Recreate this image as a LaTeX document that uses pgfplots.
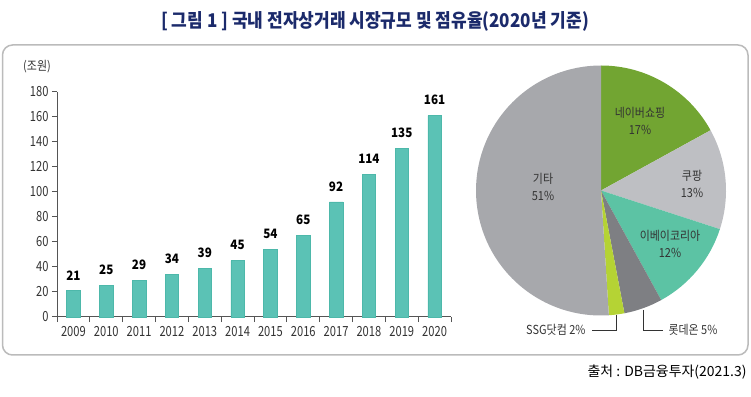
\documentclass[border=0pt]{standalone}
\usepackage{fontspec}
\setmainfont{Noto Sans CJK KR}
\newfontfamily\condA[FakeStretch=0.8]{Noto Sans CJK KR}
\newfontfamily\condB[FakeStretch=0.9]{Noto Sans CJK KR}
\newfontfamily\condC[FakeStretch=0.88]{Noto Sans CJK KR}
\usepackage{graphicx}
\usepackage{pgfplots}
\pgfplotsset{compat=1.18}
\definecolor{barc}{HTML}{5BC2B5}
\definecolor{bare}{HTML}{4DB8AA}
\definecolor{axisc}{HTML}{555555}
\definecolor{boxc}{HTML}{BBBBBB}
\definecolor{titlec}{HTML}{1B2A6B}
\definecolor{txtc}{HTML}{333333}
\definecolor{cNaver}{HTML}{72A532}
\definecolor{cCoupang}{HTML}{BEBFC3}
\definecolor{cEbay}{HTML}{5CC3A4}
\definecolor{cLotte}{HTML}{7E7F83}
\definecolor{cSSG}{HTML}{B5D334}
\definecolor{cOther}{HTML}{A7A8AC}
\begin{document}
\begin{tikzpicture}
\path[use as bounding box] (0bp,0bp) rectangle (751bp,397bp);
% frame
\draw[draw=boxc, line width=1.5bp, rounded corners=10bp] (2.5bp,42bp) rectangle (748bp,352bp);
% title
\node[text=titlec, font=\condB\bfseries\fontsize{19}{21}\selectfont] at (375bp,376bp)
  {[ 그림 1 ] 국내 전자상거래 시장규모 및 점유율(2020년 기준)};
% unit
\node[text=txtc, font=\condC\fontsize{12.5}{14}\selectfont] at (37bp,330bp) {(조원)};
% bar chart
\begin{axis}[at={(57bp,80bp)}, anchor=south west, scale only axis,
  width=394bp, height=225bp,
  xmin=-0.5, xmax=11.5, ymin=0, ymax=180,
  ybar, bar width=13.5bp,
  axis x line*=bottom, axis y line*=left,
  axis line style={draw=axisc, line width=1bp},
  ytick={0,20,...,180},
  xtick={0,...,11},
  xticklabels={2009,2010,2011,2012,2013,2014,2015,2016,2017,2018,2019,2020},
  minor xtick={-0.5,0.5,...,11.5},
  tick align=outside,
  major tick length=5bp, minor tick length=5bp,
  tick style={draw=axisc, line width=1bp},
  major x tick style={draw=none},
  ticklabel style={font=\condA\fontsize{14}{16}\selectfont, text=txtc},
  xticklabel style={yshift=-1bp},
  /pgf/number format/assume math mode=true,
  clip=false,
  nodes near coords,
  nodes near coords style={font=\condB\bfseries\fontsize{13}{15}\selectfont, text=black, yshift=7bp},
]
\addplot[fill=barc, draw=bare, line width=0.6bp] coordinates {
(0,21) (1,25) (2,29) (3,34) (4,39) (5,45) (6,54) (7,65) (8,92) (9,114) (10,135) (11,161)};
\end{axis}
% pie chart: shares (%) -> angles
\pgfmathsetmacro\aA{90}
\pgfmathsetmacro\aB{\aA-3.6*17}% Naver
\pgfmathsetmacro\aC{\aB-3.6*13}% Coupang
\pgfmathsetmacro\aD{\aC-3.6*12}% eBay
\pgfmathsetmacro\aE{\aD-3.6*5}%  Lotte
\pgfmathsetmacro\aF{\aE-3.6*2}%  SSG
\pgfmathsetmacro\aG{\aF-3.6*51}% Other
\begin{axis}[at={(601bp,206.5bp)}, anchor=center, scale only axis, hide axis,
  width=250bp, height=250bp, xmin=-1, xmax=1, ymin=-1, ymax=1, clip=false]
\addplot[draw=none] coordinates {(0,0)};
\fill[cNaver] (axis cs:0,0) -- (axis cs:{cos(\aA)},{sin(\aA)}) arc[start angle=\aA, end angle=\aB, radius=125bp] -- cycle;
\fill[cCoupang] (axis cs:0,0) -- (axis cs:{cos(\aB)},{sin(\aB)}) arc[start angle=\aB, end angle=\aC, radius=125bp] -- cycle;
\fill[cEbay] (axis cs:0,0) -- (axis cs:{cos(\aC)},{sin(\aC)}) arc[start angle=\aC, end angle=\aD, radius=125bp] -- cycle;
\fill[cLotte] (axis cs:0,0) -- (axis cs:{cos(\aD)},{sin(\aD)}) arc[start angle=\aD, end angle=\aE, radius=125bp] -- cycle;
\fill[cSSG] (axis cs:0,0) -- (axis cs:{cos(\aE)},{sin(\aE)}) arc[start angle=\aE, end angle=\aF, radius=125bp] -- cycle;
\fill[cOther] (axis cs:0,0) -- (axis cs:{cos(\aF)},{sin(\aF)}) arc[start angle=\aF, end angle=\aG, radius=125bp] -- cycle;
\end{axis}
% pie labels
\begin{scope}[every node/.style={text=txtc, font=\condC\fontsize{12.5}{17}\selectfont, align=center}]
\node at (640bp,276.5bp) {네이버쇼핑\\17\%};
\node at (692bp,213.5bp) {쿠팡\\13\%};
\node at (543bp,210.5bp) {기타\\51\%};
\node at (670bp,153.5bp) {이베이코리아\\12\%};
\node[anchor=east] at (589bp,67bp) {SSG닷컴 2\%};
\node[anchor=west] at (665bp,67bp) {롯데온 5\%};
\end{scope}
\draw[txtc, line width=0.8bp] (592bp,67bp) -- (616bp,67bp) -- (616bp,82bp);
\draw[txtc, line width=0.8bp] (643bp,87bp) -- (643bp,67bp) -- (663bp,67bp);
% source
\node[anchor=east, text=black, font=\fontsize{14}{16}\selectfont] at (750bp,25bp)
  {출처 : DB금융투자(2021.3)};
\end{tikzpicture}
\end{document}
